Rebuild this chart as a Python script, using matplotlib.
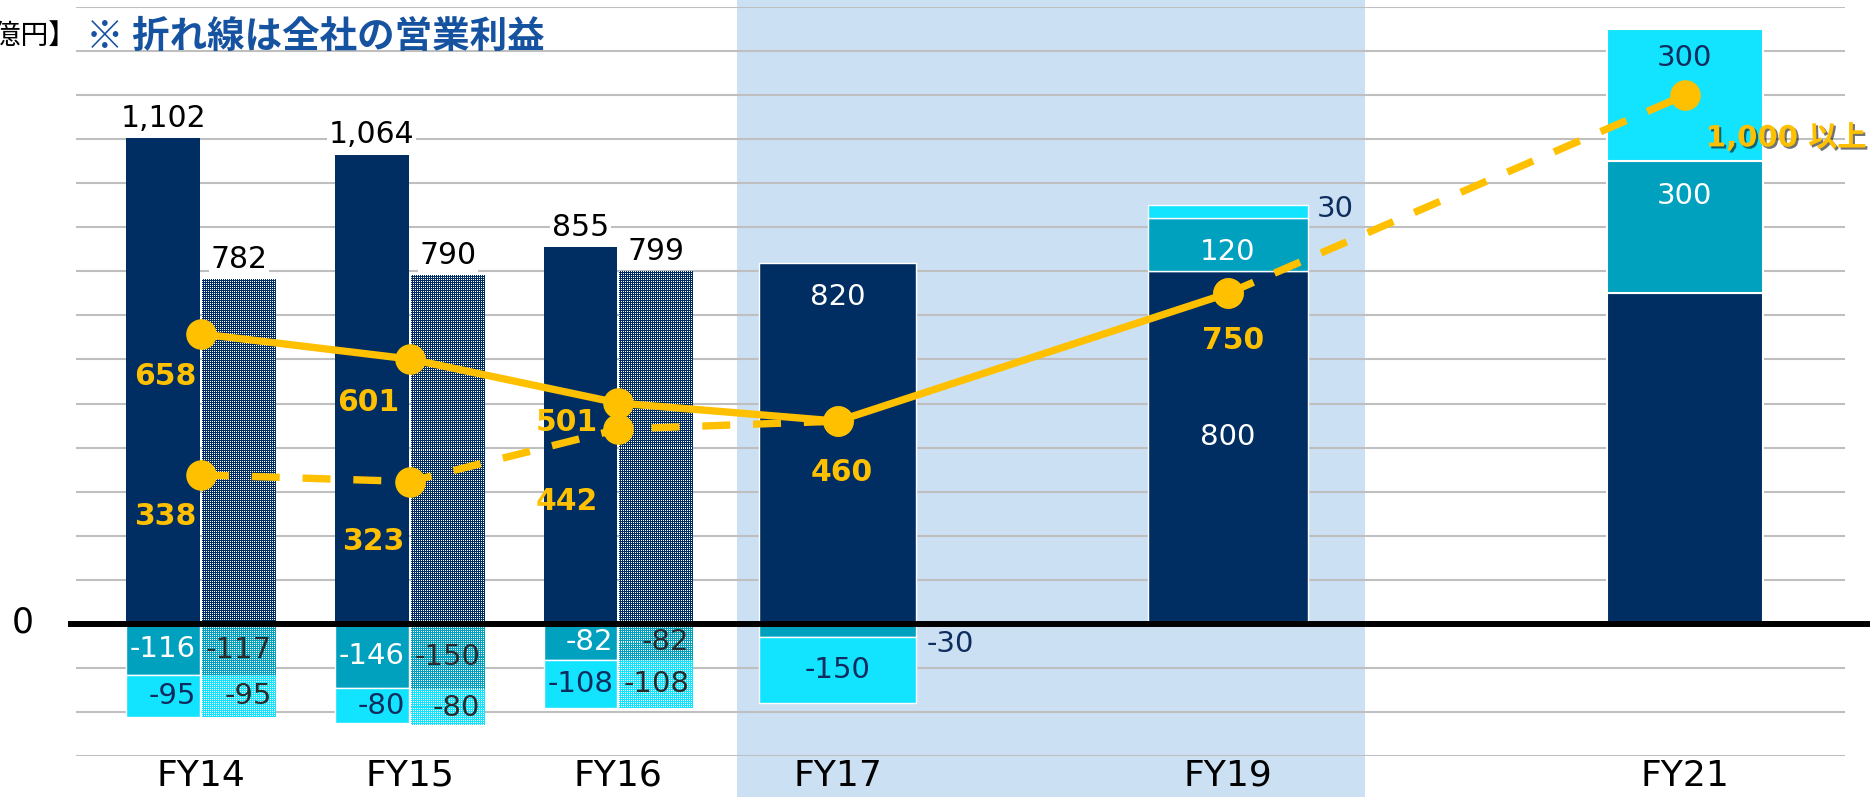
import numpy as np
import matplotlib
matplotlib.use('Agg')
import matplotlib.pyplot as plt
import matplotlib.patheffects as pe
from matplotlib.colors import to_rgb
from matplotlib.patches import Rectangle
from matplotlib.transforms import blended_transform_factory

# ---- data (億円) ----
categories = ['FY14', 'FY15', 'FY16', 'FY17', 'FY19', 'FY21']

# FY14-16: left bar (navy) and right bar (checkered)
pair_main = [1102, 1064, 855]
pair_comp = [782, 790, 799]
pair_neg1_main = [-116, -146, -82]
pair_neg2_main = [-95, -80, -108]
pair_neg1_comp = [-117, -150, -82]
pair_neg2_comp = [-95, -80, -108]

# FY17 / FY19 / FY21 stacked bars
fy17_parts = [820, -30, -150]          # navy, teal, cyan
fy19_parts = [800, 120, 30]
fy21_parts = [750, 300, 300]           # navy segment has no label

# operating profit lines
op_solid = [658, 601, 501, 460, 750]   # FY14..FY19
op_dashed = [338, 323, 442, 460]       # FY14..FY17
op_target = [750, 1200]                # FY19 -> FY21 (drawn above 1,000)
op_target_label = '1,000 以上'

# ---- layout ----
x_pos = [0, 1, 2, 3.05, 4.92, 7.11]
pair_off, pair_w = 0.182, 0.354
wide_w = [0.75, 0.77, 0.75]
band = (2.569, 5.576)

NAVY = '#002D62'
TEAL = '#00A0BF'
CYAN = '#12E3FF'
GOLD = '#FFC000'
BAND = '#CCE0F4'
LBL_DARK = '#0E2D5E'

W, H = 1870, 797
fig = plt.figure(figsize=(W / 100, H / 100), dpi=100)
ax = fig.add_axes([76 / W, 1 - 756 / H, (1845 - 76) / W, (756 - 7) / H])
ax.patch.set_visible(False)
XLIM = (-0.599, 7.877)
YLIM = (-300, 1400)
ax.set_xlim(*XLIM)
ax.set_ylim(*YLIM)
for s in ax.spines.values():
    s.set_visible(False)
ax.set_yticks(np.arange(-300, 1401, 100))
ax.set_yticklabels([])
ax.tick_params(length=0)
ax.set_axisbelow(True)
ax.grid(axis='y', color='#BFBFBF', lw=1.5)
ax.set_xticks(x_pos, categories, fontsize=26)
ax.tick_params(axis='x', pad=2)

# shaded FY17-FY19 band runs over the whole figure height
tr = blended_transform_factory(ax.transData, fig.transFigure)
ax.add_patch(Rectangle((band[0], 0), band[1] - band[0], 1, transform=tr,
                       color=BAND, lw=0, zorder=0.1, clip_on=False))

ax.axhline(0, xmin=-0.003, xmax=1.02, color='black', lw=4.3, zorder=3.5,
           clip_on=False)


def checker_bar(xc, w, y0, y1, color):
    lo, hi = min(y0, y1), max(y0, y1)
    p0 = ax.transData.transform((xc - w / 2, lo))
    p1 = ax.transData.transform((xc + w / 2, hi))
    nx = max(int(round(p1[0] - p0[0])), 1)
    ny = max(int(round(p1[1] - p0[1])), 1)
    ii, jj = np.indices((ny, nx))
    mask = ((ii % 2 == 0) & (jj % 2 == 0))[..., None]
    img = np.where(mask, np.ones(3), np.array(to_rgb(color)))
    ax.imshow(img, extent=(xc - w / 2, xc + w / 2, lo, hi),
              interpolation='nearest', aspect='auto', zorder=2)


def seg_label(x, y, txt, color, dx=0, ha='center', size=21):
    ax.annotate(txt, (x, y), xytext=(dx, 0), textcoords='offset points',
                ha=ha, va='center', fontsize=size, color=color, zorder=5)


# ---- FY14-16 pairs ----
for i in range(3):
    xm = x_pos[i] - pair_off
    xc = x_pos[i] + pair_off
    ax.bar(xm, pair_main[i], pair_w, color=NAVY, lw=0, zorder=2)
    ax.bar(xm, pair_neg1_main[i], pair_w, color=TEAL, edgecolor='white', lw=1, zorder=2)
    ax.bar(xm, pair_neg2_main[i], pair_w, bottom=pair_neg1_main[i], color=CYAN,
           edgecolor='white', lw=1, zorder=2)
    checker_bar(xc, pair_w, 0, pair_comp[i], NAVY)
    checker_bar(xc, pair_w, 0, pair_neg1_comp[i], TEAL)
    checker_bar(xc, pair_w, pair_neg1_comp[i],
                pair_neg1_comp[i] + pair_neg2_comp[i], CYAN)

    for x, v in [(xm, pair_main[i]), (xc, pair_comp[i])]:
        ax.annotate(f'{v:,}', (x, v), xytext=(0, 4), textcoords='offset points',
                    ha='center', va='bottom', fontsize=21.5, color='black', zorder=5,
                    bbox=dict(boxstyle='square,pad=0.05', fc='white', ec='none'))

    r_m = xm + pair_w / 2
    r_c = xc + pair_w / 2
    seg_label(r_m, pair_neg1_main[i] / 2, f'{pair_neg1_main[i]}', 'white', -3, 'right')
    seg_label(r_m, pair_neg1_main[i] + pair_neg2_main[i] / 2, f'{pair_neg2_main[i]}',
              LBL_DARK, -3, 'right')
    seg_label(r_c, pair_neg1_comp[i] / 2, f'{pair_neg1_comp[i]}', '#2A2A2A', -3, 'right')
    seg_label(r_c, pair_neg1_comp[i] + pair_neg2_comp[i] / 2, f'{pair_neg2_comp[i]}',
              '#2A2A2A', -3, 'right')

# ---- FY17 ----
x17, w17 = x_pos[3], wide_w[0]
ax.bar(x17, fy17_parts[0], w17, color=NAVY, edgecolor='white', lw=1, zorder=2)
ax.bar(x17, fy17_parts[1], w17, color=TEAL, edgecolor='white', lw=1, zorder=2)
ax.bar(x17, fy17_parts[2], w17, bottom=fy17_parts[1], color=CYAN,
       edgecolor='white', lw=1, zorder=2)
ax.annotate(f'{fy17_parts[0]}', (x17, fy17_parts[0]), xytext=(0, -25),
            textcoords='offset points', ha='center', va='center', fontsize=21,
            color='white', zorder=5)
seg_label(x17, fy17_parts[1] + fy17_parts[2] / 2, f'{fy17_parts[2]}', LBL_DARK)
ax.annotate(f'{fy17_parts[1]}', (x17 + w17 / 2, fy17_parts[1] / 2), xytext=(8, -10),
            textcoords='offset points', ha='left', va='center', fontsize=21,
            color=LBL_DARK, zorder=5)

# ---- FY19 ----
x19, w19 = x_pos[4], wide_w[1]
bottoms = np.cumsum([0] + fy19_parts[:-1])
for v, b, c in zip(fy19_parts, bottoms, [NAVY, TEAL, CYAN]):
    ax.bar(x19, v, w19, bottom=b, color=c, edgecolor='white', lw=1, zorder=2)
seg_label(x19, fy19_parts[0] * 0.53, f'{fy19_parts[0]}', 'white')
seg_label(x19, bottoms[1] + fy19_parts[1] * 0.36, f'{fy19_parts[1]}', 'white')
ax.annotate(f'{fy19_parts[2]}', (x19 + w19 / 2, bottoms[2] + fy19_parts[2] / 2),
            xytext=(6, 2), textcoords='offset points', ha='left', va='center',
            fontsize=21, color=LBL_DARK, zorder=5)

# ---- FY21 ----
x21, w21 = x_pos[5], wide_w[2]
bottoms = np.cumsum([0] + fy21_parts[:-1])
for v, b, c in zip(fy21_parts, bottoms, [NAVY, TEAL, CYAN]):
    ax.bar(x21, v, w21, bottom=b, color=c, edgecolor='white', lw=1.5, zorder=2)
for v, b, c, dy in zip(fy21_parts[1:], bottoms[1:], ['white', LBL_DARK], [-25, -21]):
    ax.annotate(f'{v}', (x21, b + v), xytext=(0, dy), textcoords='offset points',
                ha='center', va='center', fontsize=21, color=c, zorder=5)

# ---- operating profit lines ----
line_kw = dict(color=GOLD, lw=5.3, marker='o', ms=21, zorder=4)
ax.plot(x_pos[:4], op_dashed, ls='--', dashes=(3.8, 3.1), **line_kw)
ax.plot([x_pos[4], x_pos[5]], op_target, ls='--', dashes=(3.8, 3.1), **line_kw)
ax.plot(x_pos[:5], op_solid, **line_kw)

solid_off = [(-26, -31), (-30, -31), (-37, -14), (3, -37), (4, -34)]
dashed_off = [(-26, -30), (-26, -43), (-37, -52)]
for x, v, o in zip(x_pos, op_solid, solid_off):
    ax.annotate(f'{v}', (x, v), xytext=o, textcoords='offset points', ha='center',
                va='center', fontsize=21.5, fontweight='bold', color=GOLD, zorder=6)
for x, v, o in zip(x_pos, op_dashed[:3], dashed_off):
    ax.annotate(f'{v}', (x, v), xytext=o, textcoords='offset points', ha='center',
                va='center', fontsize=21.5, fontweight='bold', color=GOLD, zorder=6)
ax.annotate(op_target_label, (x_pos[5], op_target[1]), xytext=(15, -31),
            textcoords='offset points', ha='left', va='center', fontsize=21,
            fontweight='bold', color=GOLD, zorder=6, annotation_clip=False,
            family=['DejaVu Sans', 'Noto Sans CJK JP'],
            path_effects=[pe.withSimplePatchShadow(offset=(1.5, -1.5),
                                                   shadow_rgbFace='black', alpha=0.55)])

ax.set_xlim(*XLIM)
ax.set_ylim(*YLIM)

# zero label, unit and note
ax.annotate('0', (0, 0), xycoords=('axes fraction', 'data'), xytext=(-38, 1),
            textcoords='offset points', ha='center', va='center', fontsize=25)
fig.text(77 / W, 1 - 36 / H, '【億円】', ha='right', va='center', fontsize=20,
         family=['Noto Sans CJK JP', 'DejaVu Sans'])
fig.text(86 / W, 1 - 36 / H, '※ 折れ線は全社の営業利益', ha='left', va='center',
         fontsize=27, fontweight='bold', color='#1552A0',
         family=['Noto Sans CJK JP', 'DejaVu Sans'])

fig.savefig('out.png', dpi=100)
